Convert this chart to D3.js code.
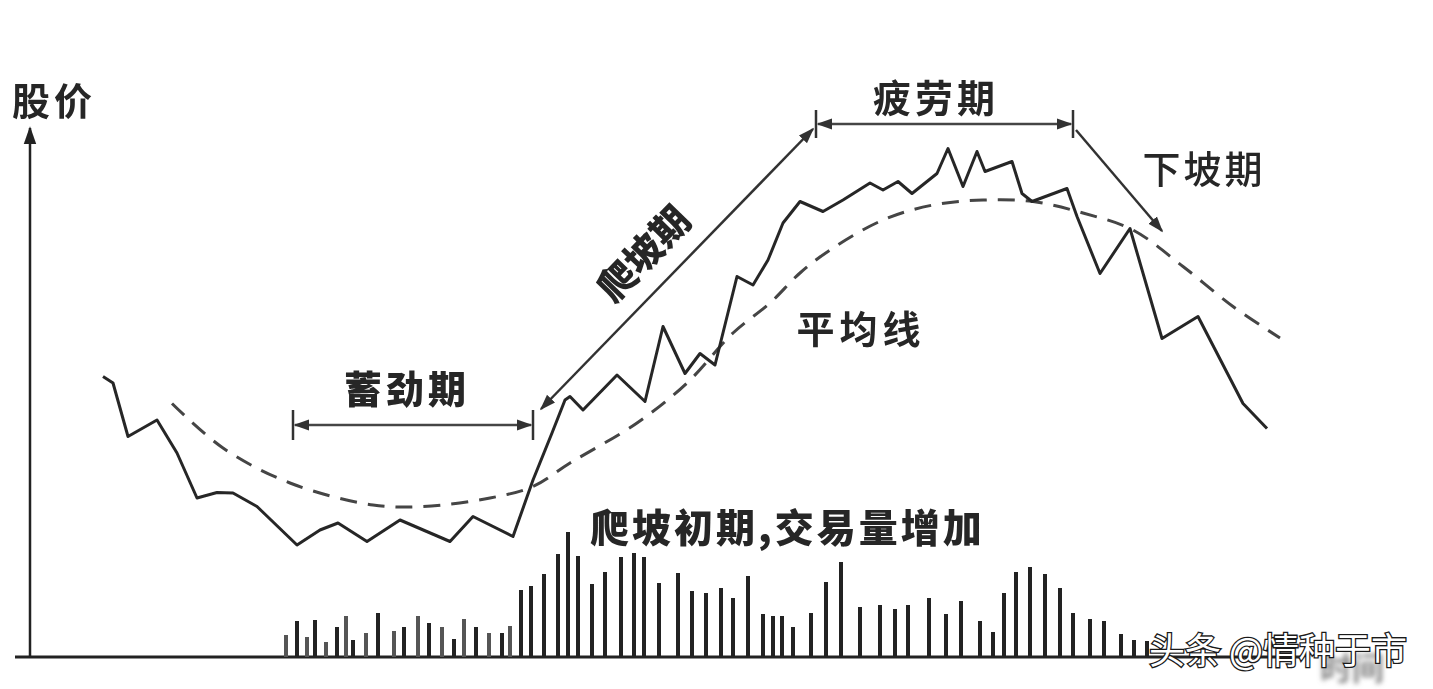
<!DOCTYPE html>
<html>
<head>
<meta charset="utf-8">
<script src="https://cdn.jsdelivr.net/npm/d3@7"></script>
<style>
  body { margin: 0; background: #fff; }
  svg { display: block; }
  text { font-family: "Noto Sans CJK SC", "Noto Sans", sans-serif; fill: #262626; }
</style>
</head>
<body>
<div id="chart"></div>
<script>
// price cycle sketch: 蓄劲期 -> 爬坡期 -> 疲劳期 -> 下坡期

// price line (time unit, price unit)
const priceT = [7.3, 8.3, 9.8, 12.7, 14.7, 16.7, 18.7, 20.3, 22.7, 26.7, 29, 30.8, 33.7, 37, 42, 44.3, 48.3,
  50.3, 52.2, 53.5, 54, 55.3, 58.7, 61.5, 63.3, 65.5, 67, 68.5, 70.7, 72.3, 73.8, 75.3, 77, 79.3, 81.3,
  84, 85.3, 86.8, 88.2, 90.7, 91.8, 93.3, 94.7, 95.5, 98.2, 99.2, 100.2, 103.7, 104.7, 107, 110,
  113.2, 116.8, 121.3, 123.7];
const priceV = [56.1, 54.8, 44.1, 47.4, 40.8, 31.8, 32.9, 32.8, 30.1, 22.4, 25.4, 26.8, 23.1, 27.4, 23.1, 28.1, 24.1,
  35.4, 44.8, 51.4, 52.1, 49.4, 56.4, 51.1, 66.1, 56.7, 60.7, 58.4, 76.1, 74.4, 79.4, 86.8, 91.1, 89.1, 91.4,
  94.8, 93.4, 95.1, 92.7, 96.7, 101.7, 94.1, 101.1, 97.1, 99.1, 92.7, 91.1, 93.7, 88.1, 76.7, 85.7,
  63.7, 68.1, 50.7, 45.7];

// moving average (平均线)
const maT = [14.2, 19.3, 26, 34.3, 39.3, 46, 50.3, 54, 60.7, 65.7, 70.3, 74, 77, 80, 85.3, 90.3, 95.3, 100.3,
  105.3, 110.3, 115.3, 120.3, 125];
const maV = [50.7, 41.8, 34.8, 30.4, 30.1, 31.8, 34.1, 38.8, 46.8, 54.8, 64.8, 70.8, 76.8, 81.4, 87.4, 90.4, 91.4, 91.1,
  88.8, 85.4, 78.1, 70.1, 63.8];

// volume bars
const volT = [25.6, 26.7, 27.7, 28.5, 29.6, 30.7, 31.6, 32.3, 33.6, 34.8, 36.4, 37.4, 38.8, 39.9, 41.2, 42.4, 43.4,
  44.6, 45.9, 47.2, 48, 49.1, 50.1, 51.4, 52.8, 53.8, 54.8, 56.2, 57.5, 59.1, 60.4, 61.4, 62.9, 64.8,
  66.2, 67.6, 69.1, 70.3, 71.8, 73.3, 74.3, 75.2, 76.3, 78.1, 79.6, 81.1, 83, 85, 86.5, 87.8, 89.9,
  91.6, 93.1, 95, 96.3, 97.4, 98.6, 100, 101.5, 103, 104.3, 106, 107.4, 109.1, 110.4, 111.7];
const volV = [22, 36, 20, 37, 15, 30, 41, 17, 24, 44, 26, 30, 41, 34, 30, 18, 38,
  30, 24, 24, 31, 67, 71, 83, 103, 125, 101, 73, 85, 100, 104, 100, 74, 84,
  66, 64, 69, 59, 81, 43, 41, 41, 30, 44, 75, 95, 50, 52, 48, 52, 59,
  43, 56, 36, 25, 64, 85, 90, 83, 69, 44, 38, 36, 23, 17, 16];

// phase boundaries (time units)
const phaseNames = ['蓄劲期', '爬坡期', '疲劳期', '下坡期'];
const phaseBounds = [26.3, 50.3, 78.6, 104.3, 113.2];

const width = 1433, height = 689;

const svg = d3.select('#chart').append('svg')
    .attr('width', width)
    .attr('height', height);

const defs = svg.append('defs');
defs.append('filter').attr('id', 'soft')
    .append('feGaussianBlur').attr('stdDeviation', 0.7);
defs.append('filter').attr('id', 'blurry')
    .append('feGaussianBlur').attr('stdDeviation', 2.5);

function marker(id, color, size) {
    defs.append('marker')
        .attr('id', id)
        .attr('viewBox', '0 0 10 10')
        .attr('refX', 9).attr('refY', 5)
        .attr('markerWidth', size).attr('markerHeight', size)
        .attr('markerUnits', 'userSpaceOnUse')
        .attr('orient', 'auto-start-reverse')
        .append('path')
        .attr('d', 'M0,1.5 L10,5 L0,8.5 Z')
        .attr('fill', color);
}
marker('arr', '#333', 16);
marker('axisArr', '#222', 18);

// scales
const x = d3.scaleLinear().domain([0, 140]).range([30, 1430]);
const y = d3.scaleLinear().domain([0, 100]).range([657, 157]);
const v = d3.scaleLinear().domain([0, 130]).range([657, 527]);

const g = svg.append('g').attr('filter', 'url(#soft)');

// axes
g.append('line')
    .attr('x1', x(0)).attr('y1', y(0))
    .attr('x2', x(0)).attr('y2', y(105.8))
    .attr('stroke', '#222').attr('stroke-width', 2.5)
    .attr('marker-end', 'url(#axisArr)');

g.append('line')
    .attr('x1', x(-1.5)).attr('y1', y(0))
    .attr('x2', x(127)).attr('y2', y(0))
    .attr('stroke', '#222').attr('stroke-width', 2.8);

g.append('text')
    .attr('x', 12).attr('y', 115)
    .style('font-size', '38px')
    .style('font-weight', 700)
    .style('letter-spacing', '4px')
    .text('股价');

// volume bars
g.selectAll('.vol')
    .data(volT.map((t, i) => ({t: t, v: volV[i]})))
    .enter()
    .append('rect')
    .attr('class', 'vol')
    .attr('x', d => x(d.t) - 2)
    .attr('y', d => v(d.v))
    .attr('width', 4)
    .attr('height', d => v(0) - v(d.v))
    .attr('fill', (d, i) => i < 21 && i % 2 === 0 ? '#555' : '#222');

// moving average
const maLine = d3.line()
    .x(d => x(d.t))
    .y(d => y(d.v))
    .curve(d3.curveCatmullRom);

g.append('path')
    .datum(maT.map((t, i) => ({t: t, v: maV[i]})))
    .attr('d', maLine)
    .attr('fill', 'none')
    .attr('stroke', '#444')
    .attr('stroke-width', 3)
    .attr('stroke-dasharray', '17,11');

// price
const priceLine = d3.line()
    .x(d => x(d.t))
    .y(d => y(d.v));

g.append('path')
    .datum(priceT.map((t, i) => ({t: t, v: priceV[i]})))
    .attr('d', priceLine)
    .attr('fill', 'none')
    .attr('stroke', '#262626')
    .attr('stroke-width', 3)
    .attr('stroke-linejoin', 'round');

// phase brackets
function bracket(t0, t1, p, tick) {
    [t0, t1].forEach(t => {
        g.append('line')
            .attr('x1', x(t)).attr('x2', x(t))
            .attr('y1', y(p) - tick).attr('y2', y(p) + tick)
            .attr('stroke', '#333').attr('stroke-width', 2.5);
    });
    g.append('line')
        .attr('x1', x(t0) + 2).attr('x2', x(t1) - 2)
        .attr('y1', y(p)).attr('y2', y(p))
        .attr('stroke', '#444').attr('stroke-width', 2.4)
        .attr('marker-start', 'url(#arr)')
        .attr('marker-end', 'url(#arr)');
}

// 蓄劲期
bracket(phaseBounds[0], phaseBounds[1], 46.4, 15);
g.append('text')
    .attr('x', 407).attr('y', 403)
    .attr('text-anchor', 'middle')
    .style('font-size', '38px')
    .style('font-weight', 900)
    .style('letter-spacing', '4px')
    .text(phaseNames[0]);

// 爬坡期 diagonal
g.append('line')
    .attr('x1', x(phaseBounds[1] + 0.8)).attr('y1', y(49.6))
    .attr('x2', x(phaseBounds[2] - 0.3)).attr('y2', y(105.6))
    .attr('stroke', '#333').attr('stroke-width', 2.5)
    .attr('marker-start', 'url(#arr)')
    .attr('marker-end', 'url(#arr)');
g.append('text')
    .attr('transform', 'translate(644,254) rotate(-46)')
    .attr('text-anchor', 'middle')
    .attr('dy', '0.35em')
    .style('font-size', '38px')
    .style('font-weight', 900)
    .text(phaseNames[1]);

// 疲劳期
bracket(phaseBounds[2], phaseBounds[3], 106.6, 14);
g.append('text')
    .attr('x', 936).attr('y', 112)
    .attr('text-anchor', 'middle')
    .style('font-size', '38px')
    .style('font-weight', 700)
    .style('letter-spacing', '4px')
    .text(phaseNames[2]);

// 下坡期 arrow
g.append('line')
    .attr('x1', x(phaseBounds[3] + 0.3)).attr('y1', y(105.4))
    .attr('x2', x(phaseBounds[4])).attr('y2', y(85.2))
    .attr('stroke', '#333').attr('stroke-width', 2.5)
    .attr('marker-end', 'url(#arr)');
g.append('text')
    .attr('x', 1204).attr('y', 183)
    .attr('text-anchor', 'middle')
    .style('font-size', '38px')
    .style('font-weight', 500)
    .style('letter-spacing', '3px')
    .text(phaseNames[3]);

// 平均线 label
g.append('text')
    .attr('x', 861).attr('y', 343)
    .attr('text-anchor', 'middle')
    .style('font-size', '38px')
    .style('font-weight', 700)
    .style('letter-spacing', '5px')
    .text('平均线');

// volume note
g.append('text')
    .attr('x', 590).attr('y', 542)
    .style('font-size', '39px')
    .style('font-weight', 900)
    .style('letter-spacing', '3px')
    .text('爬坡初期,交易量增加');

// faded axis label, mostly hidden under the watermark as in the scan
svg.append('text')
    .attr('x', 1352).attr('y', 680)
    .attr('text-anchor', 'middle')
    .attr('filter', 'url(#blurry)')
    .style('font-size', '32px')
    .style('font-weight', 700)
    .style('fill', '#888')
    .text('时间');

// watermark
svg.append('text')
    .attr('x', 1149).attr('y', 664)
    .style('font-size', '36px')
    .style('fill', '#fff')
    .style('stroke', '#1a1a1a')
    .style('stroke-width', 2.6)
    .style('paint-order', 'stroke')
    .text('头条 @情种于市');
</script>
</body>
</html>
